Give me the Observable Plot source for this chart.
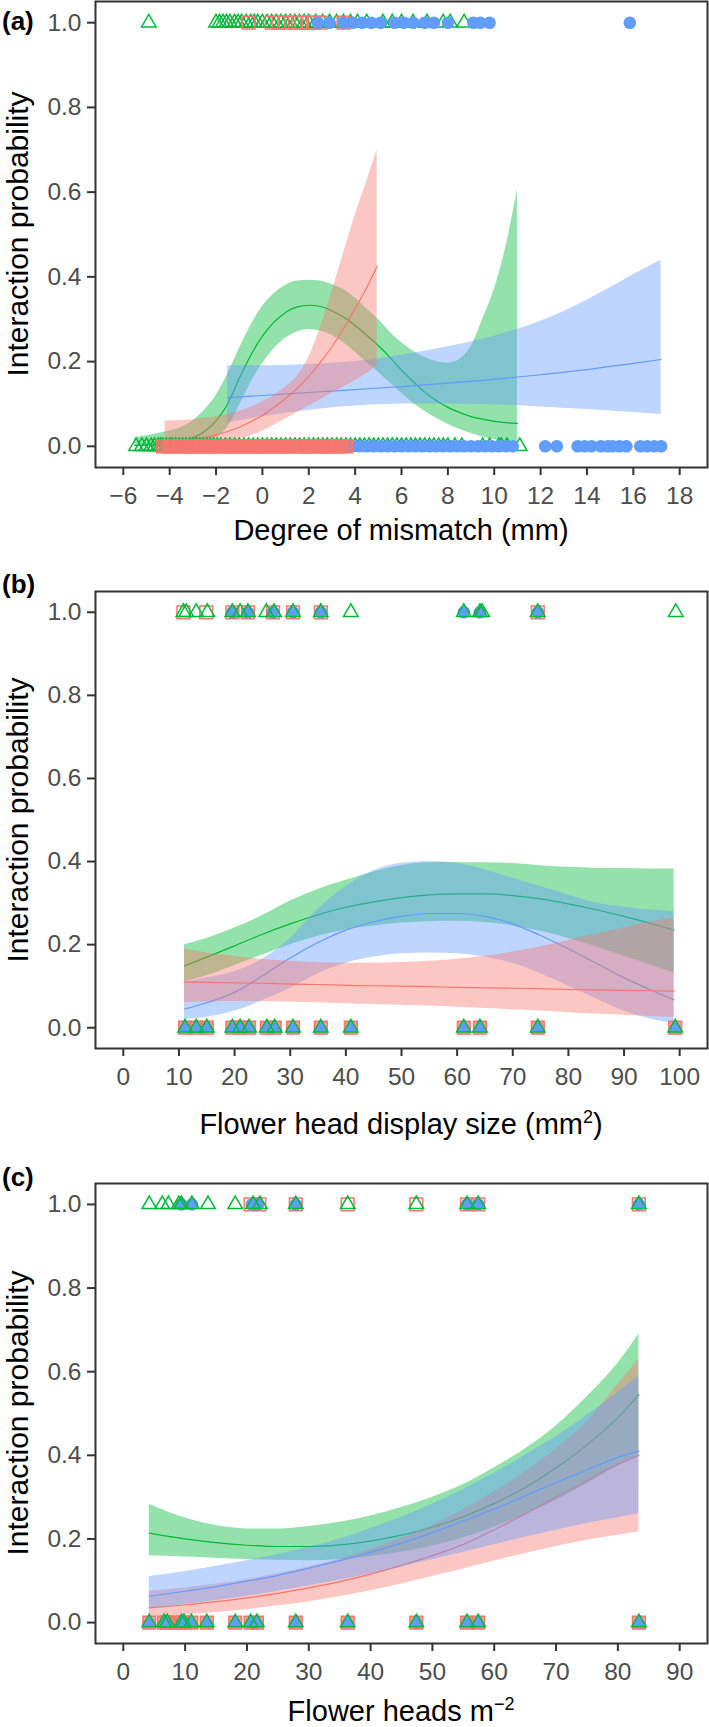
<!DOCTYPE html>
<html><head><meta charset="utf-8">
<script src="https://cdn.jsdelivr.net/npm/d3@7"></script>
<script src="https://cdn.jsdelivr.net/npm/@observablehq/plot@0.6"></script>
<style>
body{margin:0;background:#fff;}
#root{position:relative;width:709px;height:1727px;font-family:"Liberation Sans",Arial,Helvetica,sans-serif;overflow:hidden;}
.panel{position:absolute;left:0;}
.lab{position:absolute;white-space:nowrap;color:#000;line-height:1;transform:translate(-50%,-50%);}
.ytitle{position:absolute;white-space:nowrap;color:#000;line-height:1;transform:translate(-50%,-50%) rotate(-90deg);}
.plab{position:absolute;white-space:nowrap;color:#000;line-height:1;font-weight:bold;font-size:26px;transform:translateY(-50%);}
sup{font-size:0.62em;line-height:0;}
</style></head><body><div id="root"></div><script>
// ---------- colours ----------
const RED = "#F8766D", GREEN = "#00BA38", BLUE = "#619CFF";

// ---------- tick labels ----------
const yTicks = [0, 0.2, 0.4, 0.6, 0.8, 1.0];
const aXTicks = [-6, -4, -2, 0, 2, 4, 6, 8, 10, 12, 14, 16, 18];
const bXTicks = [0, 10, 20, 30, 40, 50, 60, 70, 80, 90, 100];
const cXTicks = [0, 10, 20, 30, 40, 50, 60, 70, 80, 90];

// ---------- panel (a): degree of mismatch ----------
const aGreenX   = [-5.5,-4.5,-3.5,-3.0,-2.5,-2.0,-1.5,-1.0,-0.5,0.0,0.5,1.0,1.5,2.0,2.5,3.0,3.5,4.0,4.5,5.0,5.5,6.0,6.5,7.0,7.5,8.0,8.5,9.0,9.5,10.0,10.5,11.0];
const aGreenFit = [0.002,0.004,0.01,0.02,0.035,0.06,0.10,0.16,0.215,0.26,0.293,0.316,0.329,0.333,0.33,0.32,0.305,0.285,0.262,0.238,0.21,0.18,0.153,0.128,0.108,0.092,0.08,0.07,0.064,0.059,0.056,0.054];
const aGreenHi  = [0.02,0.03,0.045,0.06,0.085,0.12,0.17,0.23,0.285,0.33,0.36,0.38,0.39,0.392,0.39,0.382,0.37,0.35,0.325,0.30,0.27,0.245,0.225,0.21,0.20,0.196,0.205,0.235,0.30,0.37,0.47,0.606];
const aGreenLo  = [0.0,0.0,0.001,0.003,0.008,0.02,0.045,0.095,0.15,0.195,0.23,0.255,0.27,0.276,0.272,0.262,0.245,0.222,0.198,0.175,0.15,0.125,0.102,0.083,0.066,0.052,0.04,0.03,0.022,0.016,0.011,0.008];
const aRedX   = [-4.2,-3.5,-3.0,-2.5,-2.0,-1.5,-1.0,-0.5,0.0,0.5,1.0,1.5,2.0,2.5,3.0,3.5,4.0,4.5,4.95];
const aRedFit = [0.008,0.012,0.016,0.021,0.027,0.035,0.045,0.058,0.073,0.092,0.113,0.137,0.165,0.198,0.235,0.278,0.325,0.375,0.425];
const aRedHi  = [0.06,0.061,0.063,0.066,0.07,0.075,0.082,0.092,0.105,0.12,0.14,0.165,0.21,0.28,0.365,0.455,0.545,0.625,0.70];
const aRedLo  = [0.0,0.001,0.002,0.004,0.007,0.011,0.017,0.025,0.036,0.05,0.065,0.08,0.095,0.11,0.125,0.14,0.155,0.172,0.19];
const aBlueX   = [-1.5,0,2,4,6,8,10,12,14,16,17.2];
const aBlueFit = [0.115,0.12,0.127,0.134,0.141,0.149,0.158,0.169,0.181,0.196,0.205];
const aBlueHi  = [0.19,0.19,0.193,0.2,0.215,0.235,0.26,0.295,0.345,0.405,0.44];
const aBlueLo  = [0.055,0.07,0.085,0.095,0.1,0.1,0.098,0.093,0.087,0.08,0.075];
// observed interactions (1) and non-interactions (0)
const aGreen1 = [-4.9,-2.0,-1.85,-1.7,-1.55,-1.4,-1.2,-1.05,-0.9,-0.7,-0.5,-0.35,-0.2,0.0,0.2,0.4,0.6,0.8,1.0,1.2,1.4,1.6,1.8,2.0,2.3,2.6,2.9,3.2,3.5,3.8,4.1,4.5,5.2,5.6,6.0,6.5,7.1,7.8,8.1,8.7];
const aRed1   = [-0.6,0.4,0.7,1.0,1.4,1.7,2.0,2.2,2.5,3.5];
const aBlue1  = [2.4,2.9,3.5,3.9,4.3,4.7,5.1,5.7,6.1,6.5,7.0,7.4,8.0,9.1,9.4,9.8,15.85];
const aGreen0 = [-5.45,-5.2,-5.0,-4.8,-4.65,-4.5,-4.4,-4.3,-4.15,-4.0,-3.9,-3.75,-3.6,-3.45,-3.3,-3.15,-3.0,-2.85,-2.7,-2.55,-2.4,-2.25,-2.1,-1.95,-1.8,-1.6,-1.4,-1.2,-1.0,-0.8,-0.6,-0.4,-0.2,0.0,0.2,0.4,0.6,0.8,1.0,1.2,1.4,1.6,1.8,2.0,2.2,2.4,2.6,2.8,3.0,3.2,3.4,3.6,3.8,4.0,4.2,4.4,4.6,4.8,5.0,5.2,5.4,5.6,5.8,6.0,6.2,6.4,6.6,6.8,7.0,7.2,7.4,7.6,7.8,8.0,8.3,8.6,9.5,9.8,10.2,10.3,10.55,11.1];
const aRed0   = [-4.3,-4.05,-3.9,-3.6,-3.45,-3.2,-3.0,-2.85,-2.6,-2.4,-2.2,-2.05,-1.8,-1.55,-1.4,-1.2,-0.95,-0.8,-0.6,-0.35,-0.2,0.05,0.25,0.4,0.65,0.85,1.0,1.25,1.45,1.7,1.9,2.05,2.3,2.5,2.75,2.9,3.15,3.35,3.6];
const aBlue0  = [-1.5,-1.2,-0.95,-0.6,-0.3,0.0,0.3,0.55,0.9,1.2,1.5,1.8,2.1,2.4,2.7,3.0,3.3,3.6,3.9,4.2,4.5,4.8,5.1,5.4,5.7,6.0,6.3,6.6,6.9,7.2,7.5,7.8,8.1,8.4,8.7,9.0,9.3,9.6,9.9,10.2,10.5,10.8,12.2,12.7,13.6,13.9,14.2,14.6,14.9,15.1,15.4,15.7,16.3,16.6,16.9,17.2];

// ---------- panel (b): flower head display size ----------
const bX        = [11,15,20,25,30,35,40,45,50,55,60,65,70,75,80,85,90,95,99];
const bGreenFit = [0.149,0.17,0.197,0.225,0.25,0.272,0.29,0.303,0.313,0.32,0.322,0.322,0.318,0.31,0.298,0.284,0.268,0.25,0.235];
const bGreenHi  = [0.20,0.215,0.24,0.27,0.305,0.333,0.355,0.375,0.39,0.397,0.398,0.397,0.395,0.39,0.386,0.384,0.383,0.382,0.382];
const bGreenLo  = [0.11,0.125,0.15,0.175,0.2,0.22,0.235,0.245,0.252,0.255,0.256,0.253,0.245,0.232,0.215,0.195,0.172,0.15,0.132];
const bBlueFit  = [0.045,0.06,0.085,0.125,0.168,0.205,0.235,0.255,0.268,0.275,0.275,0.268,0.25,0.222,0.19,0.155,0.12,0.09,0.067];
const bBlueHi   = [0.11,0.12,0.135,0.165,0.215,0.285,0.34,0.378,0.396,0.40,0.395,0.38,0.36,0.34,0.32,0.30,0.29,0.283,0.28];
const bBlueLo   = [0.02,0.025,0.04,0.065,0.095,0.13,0.155,0.17,0.178,0.18,0.178,0.17,0.155,0.13,0.10,0.07,0.04,0.02,0.01];
const bRedFit   = [0.11,0.109,0.108,0.107,0.105,0.104,0.102,0.101,0.10,0.099,0.097,0.096,0.095,0.094,0.092,0.091,0.09,0.089,0.088];
const bRedHi    = [0.19,0.18,0.172,0.165,0.16,0.157,0.155,0.155,0.157,0.16,0.165,0.172,0.182,0.195,0.21,0.225,0.24,0.255,0.265];
const bRedLo    = [0.06,0.062,0.063,0.063,0.062,0.06,0.058,0.056,0.054,0.052,0.049,0.046,0.043,0.04,0.036,0.033,0.03,0.027,0.025];
const bGreen1 = [10.8,11.3,13.1,15.1,19.6,21.0,22.4,25.7,27.1,30.5,35.5,40.9,61.2,64.1,64.5,74.5,99.3];
const bRed1   = [10.8,14.9,19.6,22.4,26.9,30.5,35.5,74.5];
const bBlue1  = [19.6,22.4,26.9,30.5,35.5,61.2,64.1,74.5];
const bZero   = [11.1,13.1,15.0,19.6,21.0,22.6,25.8,27.2,30.5,35.5,40.9,61.2,64.1,74.5,99.2];

// ---------- panel (c): flower heads per m2 ----------
const cX        = [4.2,10,15,20,25,30,35,40,45,50,55,60,65,70,75,80,83.4];
const cGreenFit = [0.214,0.2,0.191,0.185,0.182,0.182,0.186,0.195,0.209,0.228,0.253,0.285,0.323,0.37,0.425,0.49,0.545];
const cGreenHi  = [0.283,0.25,0.232,0.224,0.224,0.23,0.24,0.255,0.275,0.30,0.33,0.37,0.415,0.47,0.54,0.62,0.69];
const cGreenLo  = [0.16,0.157,0.154,0.151,0.149,0.148,0.151,0.158,0.168,0.183,0.203,0.228,0.258,0.292,0.332,0.375,0.40];
const cRedFit   = [0.035,0.042,0.05,0.059,0.07,0.083,0.098,0.116,0.137,0.16,0.187,0.222,0.26,0.30,0.34,0.378,0.40];
const cRedHi    = [0.075,0.083,0.092,0.103,0.117,0.133,0.152,0.175,0.202,0.233,0.27,0.312,0.36,0.415,0.48,0.57,0.63];
const cRedLo    = [0.013,0.018,0.024,0.031,0.04,0.05,0.062,0.076,0.092,0.11,0.128,0.147,0.165,0.182,0.197,0.209,0.217];
const cBlueFit  = [0.063,0.075,0.086,0.099,0.113,0.13,0.148,0.168,0.19,0.215,0.243,0.272,0.303,0.335,0.365,0.395,0.41];
const cBlueHi   = [0.11,0.122,0.135,0.148,0.163,0.18,0.2,0.225,0.252,0.283,0.318,0.357,0.40,0.445,0.495,0.55,0.59];
const cBlueLo   = [0.033,0.043,0.053,0.063,0.075,0.088,0.102,0.117,0.133,0.15,0.168,0.186,0.204,0.221,0.237,0.251,0.26];
const cGreen1 = [4.2,6.3,7.3,9.0,9.4,11.1,13.7,18.1,21.0,22.1,27.9,36.3,47.4,55.6,57.4,83.4];
const cRed1   = [20.6,22.0,27.9,36.3,47.4,55.6,57.4,83.4];
const cBlue1  = [9.4,11.1,20.8,21.8,27.9,55.6,57.4,83.4];
const cZero   = [4.2,6.6,7.1,9.4,9.8,11.0,13.5,18.1,20.6,21.6,27.9,36.3,47.4,55.6,57.4,83.4];
const cRed0extra = [8.0,8.6];

// ---------- helpers ----------
const FONT = '"Liberation Sans", Arial, Helvetica, sans-serif';
const rows = (xs, fit, lo, hi) => xs.map((x, i) => ({x, fit: fit[i], lo: lo[i], hi: hi[i]}));
const pts = (xs, y) => xs.map(x => ({x, y}));

function band(data, color) {
  return [
    Plot.areaY(data, {x: "x", y1: "lo", y2: "hi", fill: color, fillOpacity: 0.42, curve: "monotone-x"}),
    Plot.line(data, {x: "x", y: "fit", stroke: color, strokeWidth: 1.2, curve: "monotone-x"})
  ];
}
const sq = (d, filled) => Plot.dot(d, {x: "x", y: "y", symbol: "square", r: 7.2, stroke: RED, strokeWidth: 1.5, fill: filled ? RED : "none", fillOpacity: 0.72});
const tri = (d) => Plot.dot(d, {x: "x", y: "y", symbol: "triangle", r: 5.4, stroke: GREEN, strokeWidth: 1.5, fill: "none"});
const circ = (d) => Plot.dot(d, {x: "x", y: "y", symbol: "circle", r: 6.3, fill: BLUE, stroke: "none"});
const btri = (d) => Plot.dot(d, {x: "x", y: "y", symbol: "triangle", r: 5.4, fill: BLUE, stroke: "none"});

function panel(top, frameH, xDomain, xTicks, layers) {
  const mt = 1, mb = 53;
  const svg = Plot.plot({
    width: 709, height: frameH + mt + mb,
    marginLeft: 95, marginRight: 2, marginTop: mt, marginBottom: mb,
    x: {domain: xDomain},
    y: {domain: [-0.05, 1.05]},
    style: {fontFamily: FONT, background: "transparent", overflow: "visible"},
    marks: [
      ...layers,
      Plot.frame({stroke: "#333", strokeWidth: 2}),
      Plot.axisX({ticks: xTicks, tickSize: 8, tickPadding: 11, stroke: "#333", strokeWidth: 2,
        fill: "#4D4D4D", fontSize: 24.5, label: null, tickFormat: d3.format("d")}),
      Plot.axisY({ticks: yTicks, tickSize: 8, tickPadding: 6, stroke: "#333", strokeWidth: 2,
        fill: "#4D4D4D", fontSize: 24.5, label: null, tickFormat: d3.format(".1f")})
    ]
  });
  svg.classList.add("panel");
  svg.style.top = top + "px";
  return svg;
}

const root = document.getElementById("root");

// panel (a)
root.appendChild(panel(0, 466, [-7.2, 19.2], aXTicks, [
  ...band(rows(aGreenX, aGreenFit, aGreenLo, aGreenHi), GREEN),
  ...band(rows(aBlueX, aBlueFit, aBlueLo, aBlueHi), BLUE),
  ...band(rows(aRedX, aRedFit, aRedLo, aRedHi), RED),
  tri(pts(aGreen1, 1)), sq(pts(aRed1, 1), false), circ(pts(aBlue1, 1)),
  tri(pts(aGreen0, 0)), circ(pts(aBlue0, 0)), sq(pts(aRed0, 0), true)
]));

// panel (b)
root.appendChild(panel(590, 457, [-5, 105], bXTicks, [
  ...band(rows(bX, bGreenFit, bGreenLo, bGreenHi), GREEN),
  ...band(rows(bX, bBlueFit, bBlueLo, bBlueHi), BLUE),
  ...band(rows(bX, bRedFit, bRedLo, bRedHi), RED),
  sq(pts(bRed1, 1), false), circ(pts(bBlue1, 1)), tri(pts(bGreen1, 1)),
  sq(pts(bZero, 0), true), btri(pts(bZero, 0)), tri(pts(bZero, 0))
]));

// panel (c)
root.appendChild(panel(1182, 460, [-4.5, 94.5], cXTicks, [
  ...band(rows(cX, cGreenFit, cGreenLo, cGreenHi), GREEN),
  ...band(rows(cX, cRedFit, cRedLo, cRedHi), RED),
  ...band(rows(cX, cBlueFit, cBlueLo, cBlueHi), BLUE),
  sq(pts(cRed1, 1), false), circ(pts(cBlue1, 1)), tri(pts(cGreen1, 1)),
  sq(pts(cZero.concat(cRed0extra), 0), true), btri(pts(cZero, 0)), tri(pts(cZero, 0))
]));

// text overlays
function addText(cls, html, x, y, size) {
  const d = document.createElement("div");
  d.className = cls;
  d.innerHTML = html;
  d.style.left = x + "px";
  d.style.top = y + "px";
  if (size) d.style.fontSize = size + "px";
  root.appendChild(d);
}
addText("plab", "(a)", 2, 21);
addText("plab", "(b)", 2, 584);
addText("plab", "(c)", 2, 1177);
addText("ytitle", "Interaction probability", 18, 234, 30);
addText("ytitle", "Interaction probability", 18, 820, 30);
addText("ytitle", "Interaction probability", 18, 1413, 30);
addText("lab", "Degree of mismatch (mm)", 401, 530, 29);
addText("lab", "Flower head display size (mm<sup>2</sup>)", 401, 1124, 29);
addText("lab", "Flower heads m<sup>\u22122</sup>", 401, 1711, 29);
</script></body></html>
